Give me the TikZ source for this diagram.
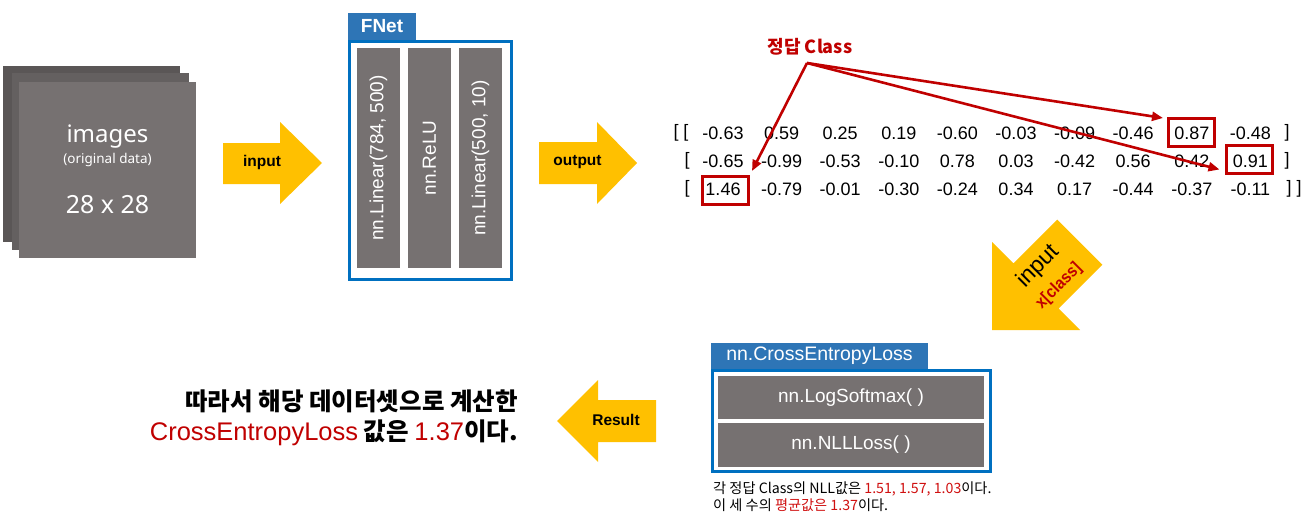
\documentclass[tikz,border=0pt]{standalone}
\usepackage{fontspec}
\setmainfont{Liberation Sans}
\newfontfamily\kr{Noto Sans CJK KR}
\newfontfamily\imgf{Noto Sans}
\usetikzlibrary{arrows.meta,calc}
\newcommand\fsz[2]{\fontsize{#1pt}{#2pt}\selectfont}
\definecolor{arrowyellow}{HTML}{FFC000}
\definecolor{boxgray}{HTML}{767171}
\definecolor{backgray}{HTML}{5A5656}
\definecolor{midgray}{HTML}{646060}
\definecolor{tabblue}{HTML}{2E75B6}
\definecolor{frameblue}{HTML}{0070C0}
\definecolor{darkred}{HTML}{C00000}
\definecolor{notered}{HTML}{D01010}
\begin{document}
\begin{tikzpicture}[x=1pt,y=-1pt,
  sq/.style={rectangle, inner sep=0pt, minimum width=177pt, minimum height=176pt},
  imgtext/.style={text=white, inner sep=0pt},
  yarrow/.style={fill=arrowyellow},
  alabel/.style={font=\bfseries\fsz{15.5}{18}, text=black, inner sep=0pt},
  layerbar/.style={rectangle, fill=boxgray, inner sep=0pt, minimum width=220pt, minimum height=43pt, text=white, font=\fsz{19}{22}, rotate=90},
  tabbox/.style={rectangle, fill=tabblue, text=white, inner sep=0pt},
  framebox/.style={rectangle, draw=frameblue, line width=3pt, inner sep=0pt},
  num/.style={font=\fsz{18}{20}, inner sep=0pt},
  redbox/.style={rectangle, draw=darkred, line width=3pt, inner sep=0pt, minimum width=46pt, minimum height=28pt},
  redarrow/.style={draw=darkred, line width=2.6pt, -{Triangle[length=11pt,width=9pt]}},
  seqbar/.style={rectangle, fill=boxgray, inner sep=0pt, minimum width=266pt, text=white, font=\fsz{19}{22}},
]
\useasboundingbox[fill=white] (0,0) rectangle (1315,527);

% image stack
\node[sq, fill=backgray] (img3) at (91.5,154) {};
\node[sq, fill=midgray] (img2) at (100,161.5) {};
\node[sq, fill=boxgray] (img1) at (107.5,170) {};
\node[imgtext, font=\imgf\fsz{24}{28}] (imgname) at (107.5,137) {images};
\node[imgtext, font=\imgf\fsz{13.5}{16}] (imgsub) at (107.5,160) {(original data)};
\node[imgtext, font=\imgf\fsz{25}{30}] (imgsize) at (107.5,205) {28 x 28};

% input arrow
\fill[yarrow] (223,143) -- (280,143) -- (280,122) -- (322,163) -- (280,204) -- (280,184) -- (223,184) -- cycle;
\node[alabel] (inlabel) at (262,162) {input};

% FNet
\node[framebox, minimum width=162pt, minimum height=238pt] (fnet) at (430.5,160.5) {};
\node[tabbox, minimum width=68pt, minimum height=27pt, font=\bfseries\fsz{19}{22}] (fnettab) at (382,26.5) {FNet};
\node[layerbar] (lin1) at (378.5,158) {nn.Linear(784, 500)};
\node[layerbar] (relu) at (429.5,158) {nn.ReLU};
\node[layerbar] (lin2) at (480.5,158) {nn.Linear(500, 10)};

% output arrow
\fill[yarrow] (539,142) -- (597,142) -- (597,122) -- (637,163) -- (597,204) -- (597,184) -- (539,184) -- cycle;
\node[alabel] (outlabel) at (577.5,162) {output};

% matrix
\node[num] (lb1) at (681,133) {[ [};
\node[num] (lb2) at (687,161) {[};
\node[num] (lb3) at (687,189) {[};
\foreach \v [count=\i] in {-0.63,0.59,0.25,0.19,-0.60,-0.03,-0.09,-0.46,0.87,-0.48}
  \node[num] (ma-\i) at ({723+58.6*(\i-1)},133) {\v};
\foreach \v [count=\i] in {-0.65,-0.99,-0.53,-0.10,0.78,0.03,-0.42,0.56,0.42,0.91}
  \node[num] (mb-\i) at ({723+58.6*(\i-1)},161) {\v};
\foreach \v [count=\i] in {1.46,-0.79,-0.01,-0.30,-0.24,0.34,0.17,-0.44,-0.37,-0.11}
  \node[num] (mc-\i) at ({723+58.6*(\i-1)},189) {\v};
\node[num] (rb1) at (1287,133) {]};
\node[num] (rb2) at (1287,161) {]};
\node[num] (rb3) at (1294,189) {] ]};

\node[redbox] (b1) at (1191.5,132.5) {};
\node[redbox] (b2) at (1249,159) {};
\node[redbox] (b3) at (725.5,190.5) {};

\node[font=\kr\bfseries\fsz{18}{20}, text=darkred, inner sep=0pt] (cls) at (810,47) {정답 Class};
\coordinate (src) at (807,63);
\draw[redarrow] (src) -- ([xshift=-4pt,yshift=-1pt]b1.north west);
\draw[redarrow] (src) -- ([xshift=-5pt,yshift=5pt]b2.south west);
\draw[redarrow] (src) -- ([xshift=2pt,yshift=4pt]b3.north east);

% diagonal input arrow
\fill[yarrow] (992,330) -- (1080,330) -- (1058.6,308.6) -- (1102.4,264.8) -- (1057.2,219.6) -- (1013.4,263.4) -- (992,242) -- cycle;
\node[font=\fsz{23}{25}, rotate=45, inner sep=0pt] (diagin) at (1038.5,266.5) {input};
\node[font=\bfseries\fsz{17}{19}, text=darkred, rotate=45, inner sep=0pt] (diagcls) at (1059,286) {\scalebox{0.9}[1]{x[class]}};

% CrossEntropyLoss
\node[framebox, minimum width=278pt, minimum height=101pt] (ce) at (851.5,421) {};
\node[tabbox, minimum width=217pt, minimum height=26pt, font=\fsz{19.5}{22}] (cetab) at (819.5,356) {nn.CrossEntropyLoss};
\node[seqbar, minimum height=43pt] (logsm) at (851,397.5) {nn.LogSoftmax( )};
\node[seqbar, minimum height=44pt] (nll) at (851,445) {nn.NLLLoss( )};
\node[anchor=base west, inner sep=0pt, font=\kr\fsz{14.2}{16}] (note1) at (713,493) {각 정답 Class의 NLL값은 {\color{notered}1.51, 1.57, 1.03}이다.};
\node[anchor=base west, inner sep=0pt, font=\kr\fsz{14.2}{16}] (note2) at (713,510.5) {이 세 수의 {\color{notered}평균값은 1.37}이다.};

% result arrow
\fill[yarrow] (656,400) -- (598,400) -- (598,380) -- (557,421) -- (598,462) -- (598,442) -- (656,442) -- cycle;
\node[alabel] (reslabel) at (616,420) {Result};

% conclusion
\node[anchor=base east, inner sep=0pt, font=\kr\bfseries\fsz{24.5}{28}] (concl1) at (518,410) {따라서 해당 데이터셋으로 계산한};
\node[anchor=base east, inner sep=0pt, font=\kr\bfseries\fsz{24.5}{28}] (concl2) at (518,440) {{\normalfont\mdseries\fsz{25.5}{28}\color{darkred}CrossEntropyLoss} 값은 {\normalfont\mdseries\fsz{25.5}{28}\color{darkred}1.37}이다.};
\end{tikzpicture}
\end{document}
